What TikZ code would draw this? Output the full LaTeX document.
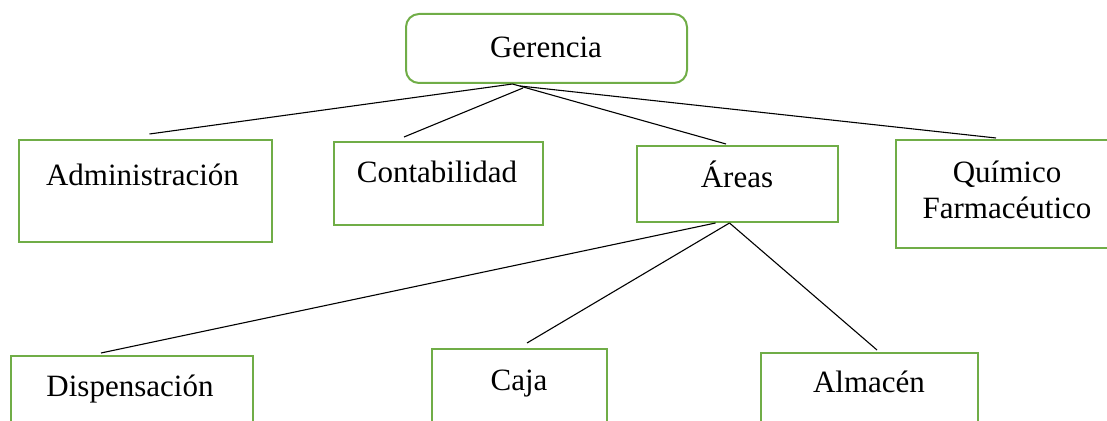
\documentclass[tikz,border=0pt]{standalone}
\usepackage{fontspec}
\setmainfont{Liberation Serif}
\usetikzlibrary{fit}

\definecolor{verde}{RGB}{112,173,71}
\tikzset{
	caja/.style={draw=verde, line width=1pt, inner sep=0pt},
	texto/.style={font=\fontsize{15.5}{18}\selectfont, inner sep=0pt},
	rama/.style={draw=black, line width=0.55pt}
}

\begin{document}
\begin{tikzpicture}[x=0.5pt,y=-0.5pt]
				\useasboundingbox (0,0) rectangle (1107,421);
				\clip (0,0) rectangle (1107,421);
				\node[caja, rounded corners=6.5pt, fit={(406,14) (687,83)}] (ger) {};
				\node[caja, fit={(19,140) (272,242)}] (adm) {};
				\node[caja, fit={(334,142) (543,225)}] (cont) {};
				\node[caja, fit={(637,146) (838,222)}] (areas) {};
				\node[caja, fit={(896,140) (1112,248)}] (quim) {};
				\node[caja, fit={(11,356) (253,450)}] (disp) {};
				\node[caja, fit={(432,349) (607,450)}] (caj) {};
				\node[caja, fit={(761,353) (978,450)}] (alm) {};
				
				\node[texto, anchor=base] (gert) at (546,58) {Gerencia};
				\node[texto, anchor=base] (admt) at (142.5,186) {Administración};
				\node[texto, anchor=base] (contt) at (437,183) {Contabilidad};
				\node[texto, anchor=base] (areast) at (737,188) {Áreas};
				\node[texto, align=center] (quimt) at (1007,190) {Químico\\Farmacéutico};
				\node[texto, anchor=base] (dispt) at (130,397) {Dispensación};
				\node[texto, anchor=base] (cajt) at (519,391) {Caja};
				\node[texto, anchor=base] (almt) at (869,393) {Almacén};
				
				% puntos de salida y llegada
				\coordinate (g1) at ([xshift=-17pt]ger.south);
				\coordinate (g2) at ([xshift=-11.75pt,yshift=-2pt]ger.south);
				\coordinate (g3) at ([xshift=-13.25pt,yshift=-1pt]ger.south);
				\coordinate (a1) at ([xshift=-11pt]areas.south);
				\coordinate (a2) at ([xshift=-4pt]areas.south);
				
				\draw[rama] (g1) -- ([xshift=2pt,yshift=2.5pt]adm.north);
				\draw[rama] (g2) -- ([xshift=-17.25pt,yshift=2pt]cont.north);
				\draw[rama] (g1) -- ([xshift=-5.75pt,yshift=0.5pt]areas.north);
				\draw[rama] (g3) -- ([xshift=-4pt,yshift=0.5pt]quim.north);
				\draw[rama] (a1) -- ([xshift=-15.5pt,yshift=1pt]disp.north);
				\draw[rama] (a2) -- ([xshift=3.75pt,yshift=2.5pt]caj.north);
				\draw[rama] (a2) -- ([xshift=3.75pt,yshift=1pt]alm.north);
			\end{tikzpicture}
\end{document}
